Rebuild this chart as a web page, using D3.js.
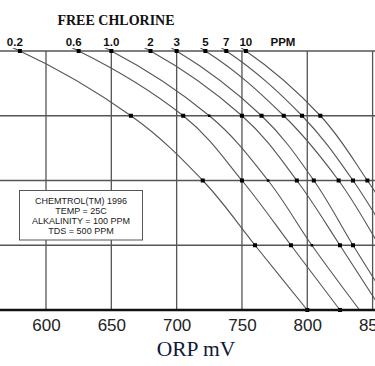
<!DOCTYPE html>
<html>
<head>
<meta charset="utf-8">
<script src="https://cdn.jsdelivr.net/npm/d3@7"></script>
<style>
  body { margin: 0; background: #fff; }
  svg { display: block; }
</style>
</head>
<body>
<svg id="chart" width="375" height="366"></svg>
<script>
// chlorine levels (top labels) and pH rows (y) of the chart
const ppmLabels = ["0.2", "0.6", "1.0", "2", "3", "5", "7", "10"];
const phRows = [8.5, 8.0, 7.5, 7.0, 6.5, 6.0];
const xTicks = [600, 650, 700, 750, 800, 850];

// ORP mV for each curve, one value per pH row
// (first value is above the visible top, last values may run past the right edge)
const orp02 = [450, 580, 665, 720, 760, 800];
const orp06 = [505, 625, 705, 750, 787.5, 825];
const orp10 = [535, 650, 725, 770, 803.5, 840];
const orp2  = [570, 680, 750, 792, 825, 857];
const orp3  = [600, 700, 765, 805, 835, 866];
const orp5  = [627, 722, 782, 824, 855, 884];
const orp7  = [648, 738, 796, 835, 866, 895];
const orp10ppm = [665, 753, 810, 846, 878, 908];

const curves = [orp02, orp06, orp10, orp2, orp3, orp5, orp7, orp10ppm];

const noteLines = ["CHEMTROL(TM) 1996", "TEMP = 25C", "ALKALINITY = 100 PPM", "TDS = 500 PPM"];

const W = 375, H = 366;
const plotTop = 51, plotBottom = 310;

const svg = d3.select('#chart');

const x = d3.scaleLinear().domain([600, 850]).range([46, 372.6]);
const y = d3.scaleLinear().domain([8.0, 6.0]).range([plotTop, plotBottom]);

svg.append('defs').append('clipPath').attr('id', 'plot')
  .append('rect').attr('x', 0).attr('y', plotTop - 3).attr('width', W).attr('height', plotBottom - plotTop + 6);

const grid = svg.append('g');
// vertical grid
grid.selectAll('line.v').data(xTicks).enter().append('line')
  .attr('x1', d => x(d)).attr('x2', d => x(d))
  .attr('y1', plotTop).attr('y2', plotBottom)
  .attr('stroke', '#555').attr('stroke-width', 1.3);
// horizontal grid
grid.selectAll('line.h').data(phRows.filter(p => p <= 8 && p > 6)).enter().append('line')
  .attr('x1', 0).attr('x2', W)
  .attr('y1', d => y(d)).attr('y2', d => y(d))
  .attr('stroke', '#555').attr('stroke-width', 1.3);

// curves
const line = d3.line()
  .x(d => x(d[0]))
  .y(d => y(d[1]))
  .curve(d3.curveMonotoneY);

const plot = svg.append('g').attr('clip-path', 'url(#plot)');
plot.selectAll('path.curve').data(curves).enter().append('path')
  .attr('d', c => line(c.map((v, i) => [v, phRows[i]])))
  .attr('fill', 'none')
  .attr('stroke', '#555')
  .attr('stroke-width', 1.1);

// dots at each crossing (the 1.0 curve has only faint marks below the top row)
const dots = [];
curves.forEach((c, k) => c.forEach((v, i) => {
  if (phRows[i] > 8) return;
  const faint = k === 2 && phRows[i] < 8;
  if (faint && phRows[i] === 6) return;
  dots.push({ v: v, ph: phRows[i], s: faint ? 2.5 : 4 });
}));
plot.selectAll('rect.dot').data(dots).enter().append('rect')
  .attr('x', d => x(d.v) - d.s / 2).attr('y', d => y(d.ph) - d.s / 2)
  .attr('width', d => d.s).attr('height', d => d.s)
  .attr('fill', '#000');

// x axis
const xAxis = d3.axisBottom(x).tickValues(xTicks).tickSize(0).tickPadding(9);
const ax = svg.append('g').attr('transform', `translate(0,${plotBottom})`).call(xAxis);
ax.select('.domain').remove();
ax.selectAll('text')
  .attr('font-family', 'Liberation Sans, Arial, sans-serif')
  .attr('font-size', 17)
  .attr('fill', '#222');
svg.append('line')
  .attr('x1', 0).attr('x2', W).attr('y1', plotBottom).attr('y2', plotBottom)
  .attr('stroke', '#111').attr('stroke-width', 2.6);

// top ppm labels
svg.selectAll('text.ppm').data(ppmLabels).enter().append('text')
  .attr('x', (d, i) => x(curves[i][1]) - (i < 2 ? 5 : 0))
  .attr('y', 46)
  .attr('text-anchor', 'middle')
  .attr('font-family', 'Liberation Sans, Arial, sans-serif')
  .attr('font-weight', 'bold')
  .attr('font-size', 11.5)
  .attr('fill', '#111')
  .text(d => d);
svg.append('text')
  .attr('x', 283).attr('y', 46)
  .attr('text-anchor', 'middle')
  .attr('font-family', 'Liberation Sans, Arial, sans-serif')
  .attr('font-weight', 'bold')
  .attr('font-size', 11.5)
  .attr('fill', '#111')
  .text('PPM');

svg.append('text')
  .attr('x', 116).attr('y', 25)
  .attr('text-anchor', 'middle')
  .attr('font-family', 'Liberation Serif, Times New Roman, serif')
  .attr('font-weight', 'bold')
  .attr('font-size', 14)
  .attr('fill', '#111')
  .text('FREE CHLORINE');

svg.append('text')
  .attr('x', 196).attr('y', 356)
  .attr('text-anchor', 'middle')
  .attr('font-family', 'Liberation Serif, Times New Roman, serif')
  .attr('font-size', 21.5)
  .attr('fill', '#101838')
  .text('ORP mV');

// note box
const note = svg.append('g');
note.append('rect')
  .attr('x', 19.5).attr('y', 190.5).attr('width', 123).attr('height', 49.5)
  .attr('fill', '#fff').attr('stroke', '#555').attr('stroke-width', 1);
note.selectAll('text').data(noteLines).enter().append('text')
  .attr('x', 81).attr('y', (d, i) => 203.5 + i * 10)
  .attr('text-anchor', 'middle')
  .attr('font-family', 'Liberation Sans, Arial, sans-serif')
  .attr('font-size', 9)
  .attr('fill', '#222')
  .text(d => d);
</script>
</body>
</html>
